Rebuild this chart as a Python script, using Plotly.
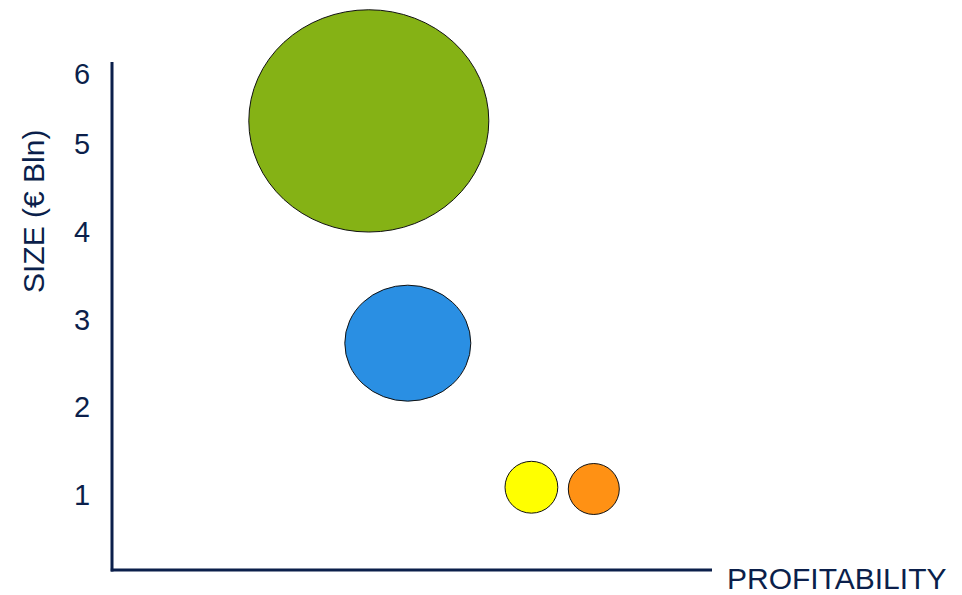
import plotly.graph_objects as go

# ---- data ----
names = ["Green", "Blue", "Yellow", "Orange"]
profitability = [4.28, 4.93, 6.99, 8.03]
size_bln = [5.26, 2.73, 1.09, 1.07]
bubble_rx = [2.0, 1.05, 0.44, 0.425]   # horizontal half-extent in axis units
bubble_ry = [1.265, 0.66, 0.295, 0.29]  # vertical half-extent in axis units
colors = ["#85B215", "#2A8FE3", "#FFFF00", "#FF9114"]

y_tick_vals = [1, 2, 3, 4, 5, 5.8]
y_tick_text = ["1", "2", "3", "4", "5", "6"]

navy = "#0B1F4B"
font_family = "Liberation Sans, Arial, sans-serif"

fig = go.Figure()
# invisible trace to establish the axes
fig.add_trace(go.Scatter(x=profitability, y=size_bln, mode="markers",
                         marker=dict(size=1, opacity=0), hoverinfo="skip",
                         showlegend=False))

shapes = []
for x, y, rx, ry, c in zip(profitability, size_bln, bubble_rx, bubble_ry, colors):
    shapes.append(dict(type="circle", xref="x", yref="y",
                       x0=x - rx, x1=x + rx, y0=y - ry, y1=y + ry,
                       fillcolor=c, line=dict(color="#111111", width=1)))

# axis lines
shapes.append(dict(type="line", xref="x", yref="y", x0=0, x1=0, y0=0.13, y1=5.93,
                   line=dict(color=navy, width=3)))
shapes.append(dict(type="line", xref="x", yref="y", x0=-0.02, x1=10.0, y0=0.148, y1=0.148,
                   line=dict(color=navy, width=3)))

fig.update_layout(
    width=954, height=587,
    margin=dict(l=96, r=20, t=0, b=15),
    plot_bgcolor="white", paper_bgcolor="white",
    showlegend=False,
    shapes=shapes,
    xaxis=dict(range=[-0.1333, 13.8333], showgrid=False, zeroline=False,
               showline=False, showticklabels=False, ticks=""),
    yaxis=dict(range=[0.0341, 6.545], showgrid=False, zeroline=False,
               showline=False, tickvals=y_tick_vals, ticktext=y_tick_text,
               ticks="outside", ticklen=7, tickcolor="rgba(0,0,0,0)",
               tickfont=dict(family=font_family, size=29, color=navy)),
    annotations=[
        dict(text="PROFITABILITY", xref="paper", yref="paper",
             x=0.741, y=0.002, xanchor="left", yanchor="middle", showarrow=False,
             font=dict(family=font_family, size=30, color=navy)),
        dict(text="SIZE (€ Bln)", xref="paper", yref="paper",
             x=-0.0835, y=0.6434, xanchor="center", yanchor="middle", showarrow=False,
             textangle=-90,
             font=dict(family=font_family, size=30, color=navy)),
    ],
)

fig.write_html("out.html")
